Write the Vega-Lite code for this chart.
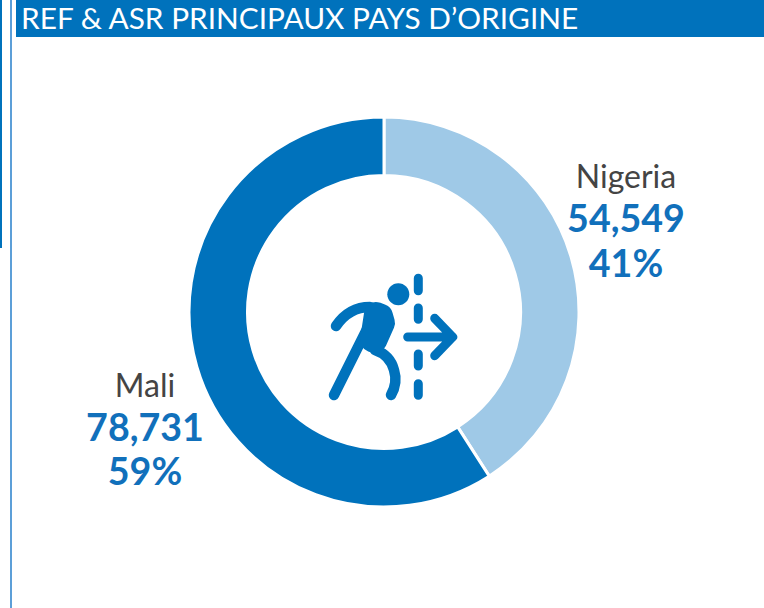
{
"$schema":"https://vega.github.io/schema/vega-lite/v6.json",
"width":764,"height":608,"padding":0,"autosize":{"type":"none"},
"background":"white",
"view":{"stroke":null},
"config":{"axis":{"disable":true},"legend":{"disable":true},"text":{"font":"Lato"}},
"datasets":{
"pays":[{"pays":"Nigeria","valeur":54549,"chiffre":"54,549","part":"41%","rang":1},{"pays":"Mali","valeur":78731,"chiffre":"78,731","part":"59%","rang":2}],
"titre":[{"titre":"REF & ASR PRINCIPAUX PAYS D’ORIGINE"}]
},
"data":{"name":"pays"},
"encoding":{
"x":{"type":"quantitative","scale":{"domain":[0,764],"range":[0,764],"nice":false}},
"y":{"type":"quantitative","scale":{"domain":[0,608],"range":[0,608],"nice":false}}
},
"layer":[
{"data":{"name":"titre"},"mark":{"type":"rect","color":"#0072bc"},"encoding":{"x":{"datum":16,"type":"quantitative"},"x2":{"datum":764},"y":{"datum":0,"type":"quantitative"},"y2":{"datum":37}}},
{"data":{"name":"titre"},"mark":{"type":"rect","color":"#0072bc"},"encoding":{"x":{"datum":0,"type":"quantitative"},"x2":{"datum":2},"y":{"datum":0,"type":"quantitative"},"y2":{"datum":248}}},
{"data":{"name":"titre"},"mark":{"type":"rect","color":"#5c9fd8"},"encoding":{"x":{"datum":10,"type":"quantitative"},"x2":{"datum":12},"y":{"datum":0,"type":"quantitative"},"y2":{"datum":608}}},
{"data":{"name":"titre"},"mark":{"type":"text","align":"left","baseline":"alphabetic","fontSize":29.8,"color":"white"},"encoding":{"x":{"datum":21,"type":"quantitative"},"y":{"datum":29,"type":"quantitative"},"text":{"field":"titre"}}},
{"mark":{"type":"arc","radius":195,"innerRadius":136.5,"stroke":"white","strokeWidth":3},
 "encoding":{"x":{"datum":384,"type":"quantitative"},"y":{"datum":312,"type":"quantitative"},
 "theta":{"field":"valeur","type":"quantitative","stack":true},
 "order":{"field":"rang","type":"quantitative"},
 "color":{"field":"pays","type":"nominal","scale":{"domain":["Nigeria","Mali"],"range":["#9fc9e7","#0072bc"]}}}},
{"data":{"name":"titre"},"mark":{"type":"point","filled":true,"opacity":1,"size":4,"color":"#0072bc","shape":"M3.3,-40.7 A11,11 0 1,0 25.3,-40.7 A11,11 0 1,0 3.3,-40.7 Z"},"encoding":{"x":{"datum":384,"type":"quantitative"},"y":{"datum":335,"type":"quantitative"}}},
{"data":{"name":"titre"},"mark":{"type":"point","filled":false,"opacity":1,"size":4,"color":"#0072bc","strokeWidth":10.5,"strokeCap":"round","strokeJoin":"round","shape":"M-48,-9 Q-35,-28 -14,-28 M-50,60 L-14,-12 M-9,15 Q6,20 10,35 Q14,48 7,60"},"encoding":{"x":{"datum":384,"type":"quantitative"},"y":{"datum":335,"type":"quantitative"}}},
{"data":{"name":"titre"},"mark":{"type":"point","filled":false,"opacity":1,"size":4,"color":"#0072bc","strokeWidth":9,"strokeCap":"round","strokeJoin":"round","shape":"M34.3,-56.7 L34.3,-44.3 M34.3,-27 L34.3,-15.7 M34.3,19 L34.3,31 M34.3,48.7 L34.3,60.3 M23.7,2 L68.7,2 M50.7,-16.7 L68.7,2 L50.7,20.7"},"encoding":{"x":{"datum":384,"type":"quantitative"},"y":{"datum":335,"type":"quantitative"}}},
{"transform":[{"filter":"datum.pays==='Nigeria'"}],"encoding":{"x":{"datum":626,"type":"quantitative"}},"layer":[
 {"mark":{"type":"text","fontSize":32,"color":"#444444","baseline":"alphabetic"},"encoding":{"y":{"datum":188,"type":"quantitative"},"text":{"field":"pays"}}},
 {"mark":{"type":"text","fontSize":37.6,"fontWeight":"bold","color":"#1170bb","baseline":"alphabetic"},"encoding":{"y":{"datum":232,"type":"quantitative"},"text":{"field":"chiffre"}}},
 {"mark":{"type":"text","fontSize":37.6,"fontWeight":"bold","color":"#1170bb","baseline":"alphabetic"},"encoding":{"y":{"datum":277,"type":"quantitative"},"text":{"field":"part"}}}
]},
{"transform":[{"filter":"datum.pays==='Mali'"}],"encoding":{"x":{"datum":145,"type":"quantitative"}},"layer":[
 {"mark":{"type":"text","fontSize":32,"color":"#444444","baseline":"alphabetic"},"encoding":{"y":{"datum":397,"type":"quantitative"},"text":{"field":"pays"}}},
 {"mark":{"type":"text","fontSize":37.6,"fontWeight":"bold","color":"#1170bb","baseline":"alphabetic"},"encoding":{"y":{"datum":441,"type":"quantitative"},"text":{"field":"chiffre"}}},
 {"mark":{"type":"text","fontSize":37.6,"fontWeight":"bold","color":"#1170bb","baseline":"alphabetic"},"encoding":{"y":{"datum":485,"type":"quantitative"},"text":{"field":"part"}}}
]},
{"data":{"name":"titre"},"mark":{"type":"point","filled":false,"opacity":1,"size":4,"color":"#0072bc","strokeWidth":24,"strokeCap":"round","strokeJoin":"round","shape":"M-8,-21 L-3,-19 L-1,-12 L-9,6 L-12,5 Z M-8,-15 L-6,-5"},"encoding":{"x":{"datum":384,"type":"quantitative"},"y":{"datum":335,"type":"quantitative"}}}
]
}
